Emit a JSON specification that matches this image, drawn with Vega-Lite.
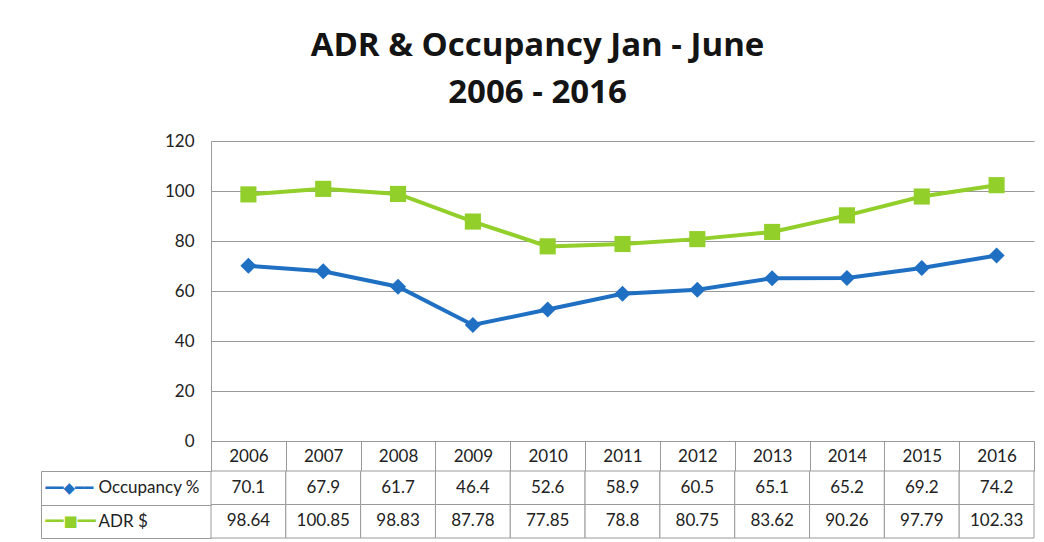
{
  "$schema": "https://vega.github.io/schema/vega-lite/v6.json",
  "padding": {"left": 40, "top": 30, "right": 6, "bottom": 2},
  "background": "white",
  "title": {
    "text": ["ADR & Occupancy Jan - June", "2006 - 2016"],
    "font": "Open Sans",
    "fontSize": 33,
    "fontWeight": "bold",
    "color": "#141414",
    "anchor": "middle",
    "lineHeight": 47,
    "offset": 22
  },
  "config": {"view": {"stroke": null}, "font": "Lato", "concat": {"spacing": 30}},
  "datasets": {
    "d": [
      {"year": "2006", "series": "Occupancy %", "value": 70.1},
      {"year": "2007", "series": "Occupancy %", "value": 67.9},
      {"year": "2008", "series": "Occupancy %", "value": 61.7},
      {"year": "2009", "series": "Occupancy %", "value": 46.4},
      {"year": "2010", "series": "Occupancy %", "value": 52.6},
      {"year": "2011", "series": "Occupancy %", "value": 58.9},
      {"year": "2012", "series": "Occupancy %", "value": 60.5},
      {"year": "2013", "series": "Occupancy %", "value": 65.1},
      {"year": "2014", "series": "Occupancy %", "value": 65.2},
      {"year": "2015", "series": "Occupancy %", "value": 69.2},
      {"year": "2016", "series": "Occupancy %", "value": 74.2},
      {"year": "2006", "series": "ADR $", "value": 98.64},
      {"year": "2007", "series": "ADR $", "value": 100.85},
      {"year": "2008", "series": "ADR $", "value": 98.83},
      {"year": "2009", "series": "ADR $", "value": 87.78},
      {"year": "2010", "series": "ADR $", "value": 77.85},
      {"year": "2011", "series": "ADR $", "value": 78.8},
      {"year": "2012", "series": "ADR $", "value": 80.75},
      {"year": "2013", "series": "ADR $", "value": 83.62},
      {"year": "2014", "series": "ADR $", "value": 90.26},
      {"year": "2015", "series": "ADR $", "value": 97.79},
      {"year": "2016", "series": "ADR $", "value": 102.33}
    ]
  },
  "spacing": 30,
  "bounds": "flush",
  "resolve": {"scale": {"x": "independent", "y": "independent"}},
  "vconcat": [
    {
      "width": 823,
      "height": 300,
      "data": {"name": "d"},
      "encoding": {
        "x": {
          "field": "year", "type": "ordinal",
          "scale": {"type": "band", "paddingInner": 0, "paddingOuter": 0},
          "axis": {
            "title": null, "tickBand": "extent", "tickSize": 30, "tickColor": "#9a9a9a",
            "domainColor": "#9a9a9a", "labelAngle": 0, "labelFontSize": 17, "labelColor": "#222",
            "labelBaseline": "middle", "labelPadding": -15
          }
        },
        "y": {
          "field": "value", "type": "quantitative",
          "scale": {"domain": [0, 120]},
          "axis": {
            "title": null, "values": [0, 20, 40, 60, 80, 100, 120], "grid": true, "gridColor": "#9a9a9a",
            "domainColor": "#9a9a9a", "ticks": false, "labelFontSize": 17, "labelColor": "#222",
            "labelPadding": 17
          }
        },
        "color": {
          "field": "series", "type": "nominal",
          "scale": {"domain": ["Occupancy %", "ADR $"], "range": ["#1f6fc2", "#92cf2a"]},
          "legend": null
        },
        "shape": {
          "field": "series", "type": "nominal",
          "scale": {"domain": ["Occupancy %", "ADR $"], "range": ["diamond", "square"]},
          "legend": null
        }
      },
      "mark": {"type": "line", "strokeWidth": 4, "point": {"size": 260, "filled": true, "opacity": 1}}
    },
    {
      "width": 823,
      "height": 67,
      "data": {"name": "d"},
      "encoding": {
        "x": {
          "field": "year", "type": "ordinal",
          "scale": {"type": "band", "paddingInner": 0, "paddingOuter": 0},
          "axis": null
        }
      },
      "layer": [
        {
          "mark": {"type": "rect", "fill": "white", "stroke": "#9a9a9a", "strokeWidth": 1},
          "encoding": {
            "y": {
              "field": "series", "type": "nominal",
              "scale": {"domain": ["Occupancy %", "ADR $"], "paddingInner": 0, "paddingOuter": 0},
              "axis": {
                "orient": "left", "title": null, "tickBand": "extent", "tickSize": 170, "tickColor": "#9a9a9a",
                "domain": false, "labelAlign": "left", "labelPadding": -57, "labelFontSize": 17,
                "labelColor": "#222"
              }
            }
          }
        },
        {
          "mark": {"type": "text", "fontSize": 17, "color": "#222"},
          "encoding": {
            "text": {"field": "value", "type": "nominal"},
            "y": {
              "field": "series", "type": "nominal",
              "scale": {"domain": ["Occupancy %", "ADR $"], "paddingInner": 0, "paddingOuter": 0},
              "axis": {
                "orient": "left", "title": null, "offset": 170, "domain": true, "domainColor": "#9a9a9a",
                "ticks": false, "labelAlign": "left", "labelPadding": -4, "labelFont": "DejaVu Sans",
                "labelFontSize": 15,
                "labelExpr": "datum.value == 'Occupancy %' ? '━━◆━━' : '━━■━━'",
                "labelColor": {"expr": "datum.value == 'Occupancy %' ? '#1f6fc2' : '#92cf2a'"}
              }
            }
          }
        }
      ],
      "resolve": {"axis": {"y": "independent"}}
    }
  ]
}
